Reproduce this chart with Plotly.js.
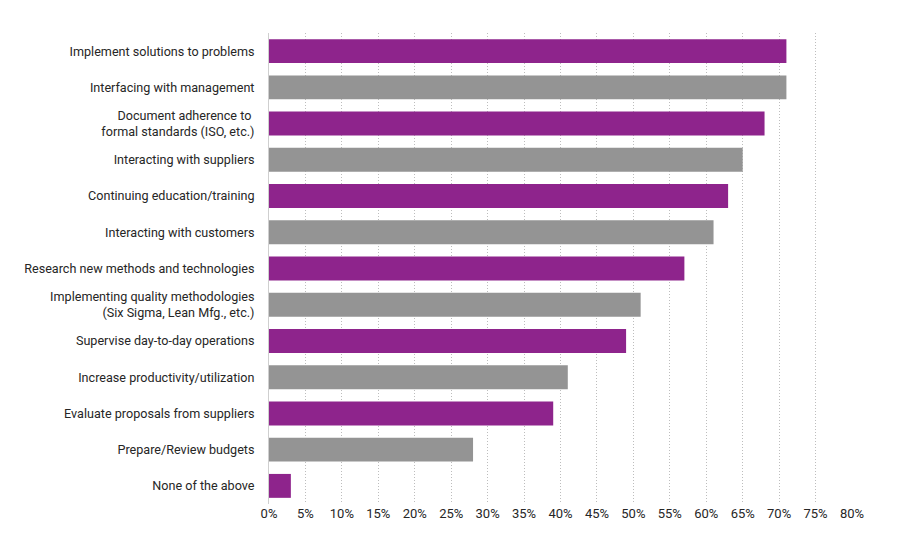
<!DOCTYPE html>
<html>
<head>
<meta charset="utf-8">
<script src="https://cdn.plot.ly/plotly-3.0.1.min.js"></script>
<style>
  html, body { margin: 0; padding: 0; background: #fff; }
  #chart { width: 900px; height: 550px; }
</style>
</head>
<body>
<div id="chart"></div>
<script>
// Job responsibilities, share of respondents (%)
const categories = [
  "Implement solutions to problems",
  "Interfacing with management",
  "Document adherence to <br>formal standards (ISO, etc.)",
  "Interacting with suppliers",
  "Continuing education/training",
  "Interacting with customers",
  "Research new methods and technologies",
  "Implementing quality methodologies<br>(Six Sigma, Lean Mfg., etc.)",
  "Supervise day-to-day operations",
  "Increase productivity/utilization",
  "Evaluate proposals from suppliers",
  "Prepare/Review budgets",
  "None of the above"
];
const values = [71, 71, 68, 65, 63, 61, 57, 51, 49, 41, 39, 28, 3];
const tickValues = [0, 5, 10, 15, 20, 25, 30, 35, 40, 45, 50, 55, 60, 65, 70, 75, 80];
const tickLabels = ["0%", "5%", "10%", "15%", "20%", "25%", "30%", "35%", "40%", "45%", "50%", "55%", "60%", "65%", "70%", "75%", "80%"];

const PURPLE = "#8e248c";
const GREY = "#949494";
const barColors = categories.map((_, i) => (i % 2 === 0 ? PURPLE : GREY));

const font = "Roboto, 'DejaVu Sans', sans-serif";
const labelFont = { family: font, size: 12.6, color: "#262626" };
const tickFont = { family: font, size: 13, color: "#262626" };

const trace = {
  type: "bar",
  orientation: "h",
  x: values,
  y: categories,
  marker: { color: barColors, line: { width: 0 } },
  hoverinfo: "x+y"
};

const layout = {
  width: 900,
  height: 550,
  margin: { l: 269, r: 48, t: 33, b: 46 },
  paper_bgcolor: "#ffffff",
  plot_bgcolor: "#ffffff",
  bargap: 0.34,
  showlegend: false,
  font: labelFont,
  xaxis: {
    range: [0, 80],
    tickvals: tickValues,
    ticktext: tickLabels,
    showgrid: true,
    gridcolor: "#bdbdbd",
    griddash: "1px,2px",
    gridwidth: 1,
    zeroline: false,
    showline: false,
    ticks: "",
    ticklabelstandoff: 0,
    tickfont: tickFont,
    fixedrange: true
  },
  yaxis: {
    type: "category",
    autorange: "reversed",
    showgrid: false,
    zeroline: false,
    showline: true,
    linecolor: "#cfcfcf",
    linewidth: 1,
    ticks: "",
    ticklabelstandoff: 11,
    tickfont: labelFont,
    fixedrange: true
  }
};

Plotly.newPlot("chart", [trace], layout, { displayModeBar: false, staticPlot: true });
</script>
</body>
</html>
